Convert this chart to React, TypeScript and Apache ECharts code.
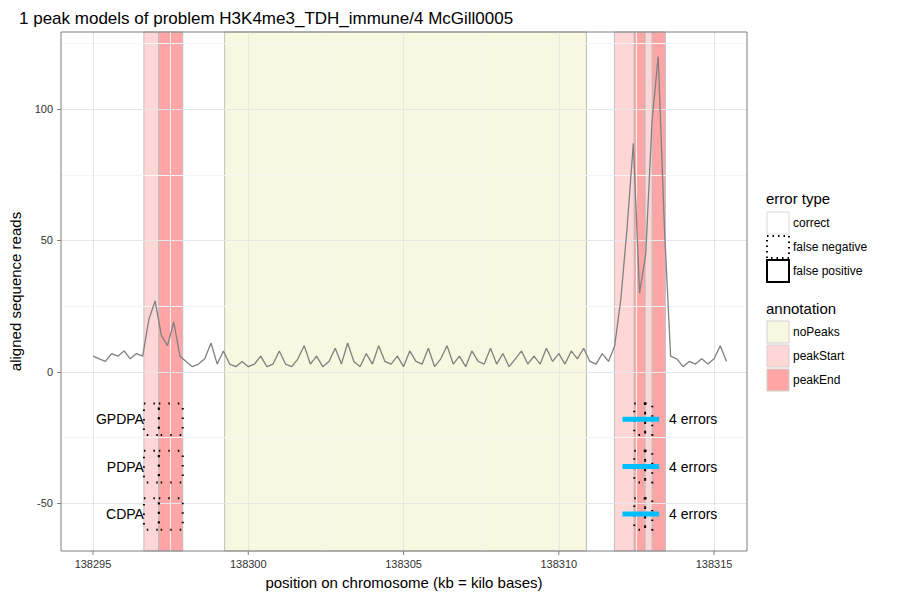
import React, { useEffect, useRef } from "react";
import * as echarts from "echarts";

const startKb = 138295.0;
const stepKb = 0.2;
const reads = [
  6, 5, 4, 7, 6, 8, 5, 7, 6, 20, 27, 14, 10, 19, 6, 4, 2, 3, 5, 11, 3, 8, 3, 2, 4, 2, 3, 6, 2, 3,
  8, 3, 2, 5, 10, 3, 6, 2, 4, 9, 3, 11, 4, 2, 7, 3, 10, 4, 3, 6, 2, 8, 4, 3, 9, 2, 5, 10, 3, 6,
  2, 8, 4, 3, 9, 3, 7, 2, 5, 8, 3, 6, 3, 9, 4, 7, 3, 8, 5, 9, 4, 3, 7, 4, 10, 28, 55, 87, 30, 45,
  95, 120, 55, 6, 5, 2, 4, 3, 5, 3, 5, 10, 4,
];

const xTicks = [138295, 138300, 138305, 138310, 138315];
const xMinor = [138297.5, 138302.5, 138307.5, 138312.5];
const yTicks = [-50, 0, 50, 100];
const yMinor = [-25, 25, 75, 125];

// [start, end, annotation]
const regions: [number, number, string][] = [
  [138296.64, 138297.12, "peakStart"],
  [138297.12, 138297.89, "peakEnd"],
  [138299.24, 138310.89, "noPeaks"],
  [138311.79, 138312.43, "peakStart"],
  [138312.43, 138312.78, "peakEnd"],
  [138312.78, 138313.01, "peakStart"],
  [138313.01, 138313.43, "peakEnd"],
];

const models = ["GPDPA", "PDPA", "CDPA"];
const modelY = [-18, -36, -54];
const errorBoxes: [number, number][] = [
  [138296.64, 138297.12],
  [138297.12, 138297.89],
  [138312.43, 138312.78],
  [138312.78, 138313.01],
];
const peakLine: [number, number] = [138312.05, 138313.23];
const errorLabels = ["4 errors", "4 errors", "4 errors"];

const fills: Record<string, string> = {
  noPeaks: "#F8F7DF",
  peakStart: "#FFD6D6",
  peakEnd: "#FFA5A5",
};

const App = () => {
  const ref = useRef<HTMLDivElement>(null);
  useEffect(() => {
    const chart = echarts.init(ref.current, null, { renderer: "svg" });
    const signal = reads.map((r, i) => [startKb + i * stepKb, r]);
    const boxData: any[] = [];
    modelY.forEach((y) => errorBoxes.forEach((b) => boxData.push([b[0], b[1], y])));
    const font = "Liberation Sans, Arial, sans-serif";
    const yMin = -68.1;

    const legendBox = (y: number, fill: string, border: string, dash: any, lw: number) => ({
      type: "rect",
      shape: { x: 767, y, width: 22, height: 22 },
      style: { fill, stroke: border, lineWidth: lw, lineDash: dash },
    });
    const legendText = (y: number, text: string) => ({
      type: "text",
      x: 793,
      y: y + 11,
      style: { text, fontSize: 12, fontFamily: font, fill: "#000", verticalAlign: "middle" },
    });

    chart.setOption({
      animation: false,
      title: {
        text: "1 peak models of problem H3K4me3_TDH_immune/4 McGill0005",
        left: 14,
        top: 5,
        textStyle: { fontSize: 17, fontWeight: "normal", color: "#000", fontFamily: font },
      },
      grid: { left: 59, right: 153, top: 32, bottom: 49, show: true, borderColor: "#7f7f7f", borderWidth: 1, z: 10 },
      xAxis: {
        type: "value",
        min: 138293.97,
        max: 138316.06,
        name: "position on chromosome (kb = kilo bases)",
        nameLocation: "middle",
        nameGap: 24,
        nameTextStyle: { fontSize: 15, color: "#000", fontFamily: font },
        axisLine: { show: false },
        axisTick: { show: false },
        axisLabel: { show: false },
        splitLine: { show: false },
      },
      yAxis: {
        type: "value",
        min: yMin,
        max: 129.3,
        name: "aligned sequence reads",
        nameLocation: "middle",
        nameGap: 38,
        nameTextStyle: { fontSize: 15, color: "#000", fontFamily: font },
        axisLine: { show: false },
        axisTick: { show: true, length: 4, lineStyle: { color: "#7f7f7f" }, customValues: yTicks },
        axisLabel: { fontSize: 11, color: "#333", fontFamily: font, customValues: yTicks },
        splitLine: { show: false },
      },
      series: [
        {
          type: "line",
          data: [],
          silent: true,
          markLine: {
            symbol: "none",
            silent: true,
            label: { show: false },
            lineStyle: { color: "#f4f4f4", type: "solid", width: 1 },
            data: [...xMinor.map((x) => ({ xAxis: x })), ...yMinor.map((y) => ({ yAxis: y }))],
          },
        },
        {
          type: "line",
          data: [],
          silent: true,
          markLine: {
            symbol: "none",
            silent: true,
            label: { show: false },
            lineStyle: { color: "#e6e6e6", type: "solid", width: 1 },
            data: [...xTicks.map((x) => ({ xAxis: x })), ...yTicks.map((y) => ({ yAxis: y }))],
          },
          markArea: {
            silent: true,
            data: regions.map((r) => [
              { xAxis: r[0], itemStyle: { color: fills[r[2]], borderColor: "#bdbdbd", borderWidth: 1 } },
              { xAxis: r[1] },
            ]),
          },
        },
        {
          type: "line",
          data: signal,
          showSymbol: false,
          lineStyle: { color: "#808080", width: 1.3 },
          z: 5,
        },
        {
          type: "custom",
          data: boxData,
          z: 6,
          renderItem: (params: any, api: any) => {
            const p0 = api.coord([api.value(0), api.value(2) + 6]);
            const p1 = api.coord([api.value(1), api.value(2) - 6]);
            return {
              type: "rect",
              shape: { x: p0[0], y: p0[1], width: p1[0] - p0[0], height: p1[1] - p0[1] },
              style: { fill: "none", stroke: "#000", lineWidth: 2, lineDash: [1.5, 8] },
            };
          },
        },
        {
          type: "custom",
          data: modelY.map((y, i) => [peakLine[0], peakLine[1], y, i]),
          z: 7,
          renderItem: (params: any, api: any) => {
            const p0 = api.coord([api.value(0), api.value(2)]);
            const p1 = api.coord([api.value(1), api.value(2)]);
            const i = api.value(3);
            return {
              type: "group",
              children: [
                { type: "line", shape: { x1: p0[0], y1: p0[1], x2: p1[0], y2: p1[1] }, style: { stroke: "#00BFFF", lineWidth: 5 } },
                { type: "text", x: p1[0] + 10, y: p1[1], style: { text: errorLabels[i], fontSize: 14, fontFamily: font, fill: "#000", verticalAlign: "middle" } },
              ],
            };
          },
        },
        {
          type: "custom",
          data: modelY.map((y, i) => [errorBoxes[0][0], y, i]),
          z: 7,
          renderItem: (params: any, api: any) => {
            const p = api.coord([api.value(0), api.value(1)]);
            return {
              type: "text",
              x: p[0],
              y: p[1],
              style: { text: models[api.value(2)], fontSize: 14, fontFamily: font, fill: "#000", align: "right", verticalAlign: "middle" },
            };
          },
        },
        {
          // x axis ticks and labels below the panel
          type: "custom",
          data: xTicks.map((x) => [x]),
          clip: false,
          z: 7,
          renderItem: (params: any, api: any) => {
            const p = api.coord([api.value(0), yMin]);
            return {
              type: "group",
              children: [
                { type: "line", shape: { x1: p[0], y1: p[1], x2: p[0], y2: p[1] + 4 }, style: { stroke: "#7f7f7f", lineWidth: 1 } },
                { type: "text", x: p[0], y: p[1] + 7, style: { text: String(api.value(0)), fontSize: 11, fontFamily: font, fill: "#333", align: "center", verticalAlign: "top" } },
              ],
            };
          },
        },
      ],
      graphic: [
        { type: "text", x: 766, y: 191, style: { text: "error type", fontSize: 15, fontFamily: font, fill: "#000" } },
        legendBox(212, "#fff", "#d9d9d9", null, 1),
        legendText(212, "correct"),
        legendBox(236, "#fff", "#000", [1.5, 4], 2),
        legendText(236, "false negative"),
        legendBox(260, "#fff", "#000", null, 2),
        legendText(260, "false positive"),
        { type: "text", x: 766, y: 301, style: { text: "annotation", fontSize: 15, fontFamily: font, fill: "#000" } },
        legendBox(321, fills.noPeaks, "#d0d0d0", null, 1),
        legendText(321, "noPeaks"),
        legendBox(345, fills.peakStart, "#d0d0d0", null, 1),
        legendText(345, "peakStart"),
        legendBox(369, fills.peakEnd, "#d0d0d0", null, 1),
        legendText(369, "peakEnd"),
      ],
    });
    return () => chart.dispose();
  }, []);
  return <div ref={ref} style={{ position: "fixed", left: 0, top: 0, width: 900, height: 600, background: "#fff" }} />;
};

export default App;
